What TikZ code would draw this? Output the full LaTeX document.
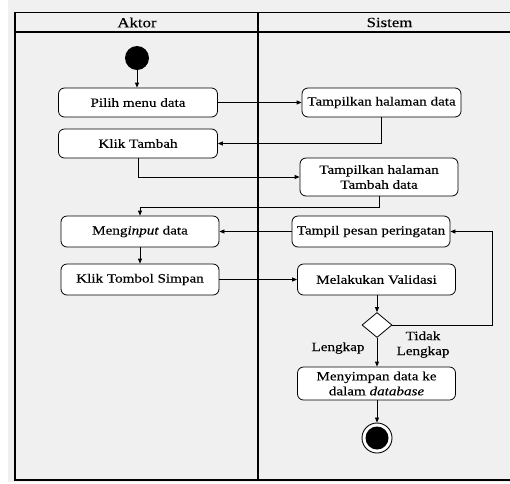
\documentclass[tikz,border=0pt]{standalone}
\usepackage{fontspec}
\setmainfont{Liberation Serif}[FakeStretch=1.2,FakeBold=0.3]
\usetikzlibrary{shapes.geometric,arrows.meta}
\definecolor{bg}{HTML}{F0F0F0}
\newcommand{\bodyfs}{\fontsize{12.6}{15}\selectfont}
\newcommand{\headfs}{\fontsize{14}{16}\selectfont}
\begin{document}
\begin{tikzpicture}[x=1pt,y=-1pt,
  act/.style={draw=black, line width=0.8pt, rounded corners=6pt, fill=white, minimum width=158pt, minimum height=31pt, align=center, inner sep=0pt, font=\bodyfs},
  arr/.style={draw=black, line width=0.8pt, -{Triangle[length=5pt,width=4pt]}},
  lane/.style={draw=black, line width=1.1pt},
  lbl/.style={font=\bodyfs, align=center, inner sep=0pt}]
\useasboundingbox (0,0) rectangle (510,483);
\fill[white] (0,0) rectangle (510,483);
\fill[bg] (8,0) rectangle (510,482);
% swimlanes
\draw[lane] (510,12.7) -- (15,12.7) -- (15,480) -- (510,480);
\draw[lane] (15,32) -- (510,32);
\draw[lane] (258,12.7) -- (258,480);
\node[font=\headfs, inner sep=0pt] (hA) at (137,22.5) {Aktor};
\node[font=\headfs, inner sep=0pt] (hS) at (389.5,22.5) {Sistem};
% nodes
\node[circle, fill=black, minimum size=24pt, inner sep=0pt] (start) at (137,58) {};
\node[act, minimum width=159pt, minimum height=29pt] (pilih) at (138,102.5) {Pilih menu data};
\node[act, minimum width=159pt, minimum height=29pt] (tampil) at (381.5,102.5) {Tampilkan halaman data};
\node[act, minimum width=159pt, minimum height=29pt] (klik) at (138,143.5) {Klik Tambah};
\node[act, minimum height=38pt] (tambah) at (379,177) {Tampilkan halaman\\Tambah data};
\node[act] (input) at (140,231.5) {Meng\textit{input} data};
\node[act] (pesan) at (371,231.5) {Tampil pesan peringatan};
\node[act] (simpan) at (140,279.5) {Klik Tombol Simpan};
\node[act] (valid) at (376.5,279.5) {Melakukan Validasi};
\node[diamond, draw=black, line width=0.8pt, fill=white, minimum width=30pt, minimum height=25pt, inner sep=0pt] (dec) at (377,325) {};
\node[act, minimum height=33pt] (save) at (376.5,383.5) {Menyimpan data ke\\dalam \textit{database}};
\node[circle, draw=black, line width=0.9pt, fill=white, minimum size=30pt, inner sep=0pt] (end) at (377,438) {};
\node[circle, fill=black, minimum size=23pt, inner sep=0pt] (endin) at (end.center) {};
% labels
\node[lbl] (ltidak) at (423,344.5) {Tidak\\Lengkap};
\node[lbl] (llengkap) at (338,348) {Lengkap};
% connectors
\draw[arr] (start.south) -- (start.south |- pilih.north);
\draw[arr] (pilih.east) -- (tampil.west);
\draw[arr] (tampil.south) |- (klik.east);
\draw[arr] (klik.south) |- (tambah.west);
\coordinate (j1) at (379,207);
\draw[arr] (tambah.south) -- (j1) -| (input.north);
\draw[arr] (pesan.west) -- (input.east);
\draw[arr] (input.south) -- (input.south |- simpan.north);
\draw[arr] (simpan.east) -- (valid.west);
\draw[arr] (dec.north |- valid.south) -- (dec.north);
\coordinate (j2) at (492,325);
\draw[arr] (dec.east) -- (j2) |- (pesan.east);
\draw[arr] (dec.south) -- (dec.south |- save.north);
\draw[arr] (end.north |- save.south) -- (end.north);
\end{tikzpicture}
\end{document}
